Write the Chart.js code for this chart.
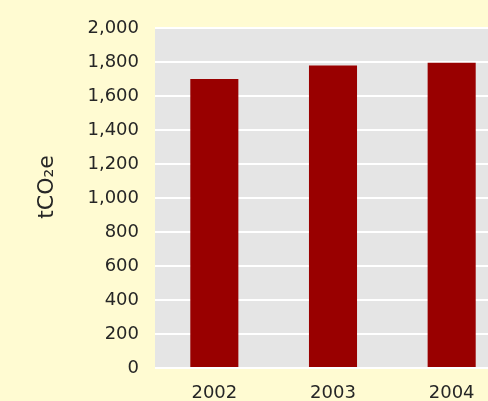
<!DOCTYPE html>
<html><head><meta charset="utf-8">
<script src="https://cdn.jsdelivr.net/npm/chart.js@4"></script>
<style>
html,body{margin:0;padding:0;background:#fffbd2;overflow:hidden;width:488px;height:401px}
#wrap{position:absolute;left:0;top:0;width:512px;height:401px}
</style></head><body><div id="wrap"><canvas id="c"></canvas></div>
<script>
const categories = ['2002', '2003', '2004'];
const emissions = [1700, 1780, 1795];
const yTickValues = [0, 200, 400, 600, 800, 1000, 1200, 1400, 1600, 1800, 2000];
const yTitle = 'tCO₂e';

const plotBg = {
  id: 'plotBg',
  beforeDraw(chart) {
    const {ctx, chartArea: a} = chart;
    ctx.save();
    ctx.fillStyle = '#e5e5e5';
    ctx.fillRect(a.left, a.top, a.right - a.left, a.bottom - a.top);
    ctx.restore();
  }
};

const yTitlePlugin = {
  id: 'yTitlePlugin',
  afterDraw(chart) {
    const ctx = chart.ctx;
    ctx.save();
    ctx.translate(47, 187);
    ctx.rotate(-Math.PI / 2);
    ctx.fillStyle = '#262626';
    ctx.font = '22px "DejaVu Sans"';
    ctx.textAlign = 'center';
    ctx.textBaseline = 'middle';
    ctx.fillText(yTitle, 0, 0);
    ctx.restore();
  }
};

new Chart(document.getElementById('c'), {
  type: 'bar',
  data: {
    labels: categories,
    datasets: [{
      data: emissions,
      backgroundColor: '#990000',
      borderWidth: 0,
      barPercentage: 0.405,
      categoryPercentage: 1
    }]
  },
  options: {
    responsive: true,
    maintainAspectRatio: false,
    animation: false,
    layout: {padding: {top: 28, bottom: 0, left: 0, right: 1}},
    plugins: {legend: {display: false}, tooltip: {enabled: false}},
    scales: {
      x: {
        grid: {display: false},
        border: {display: false},
        ticks: {color: '#262626', font: {family: 'DejaVu Sans', size: 18}, padding: 7},
        afterFit(s) { s.height = 33; }
      },
      y: {
        min: 0, max: 2000,
        afterBuildTicks(s) { s.ticks = yTickValues.map(v => ({value: v})); },
        grid: {color: '#ffffff', lineWidth: 2, drawTicks: false},
        border: {display: false},
        ticks: {
          color: '#262626', font: {family: 'DejaVu Sans', size: 18}, padding: 16,
          callback: v => v.toLocaleString('en-US')
        },
        afterFit(s) { s.width = 155; }
      }
    }
  },
  plugins: [plotBg, yTitlePlugin]
});
</script></body></html>
